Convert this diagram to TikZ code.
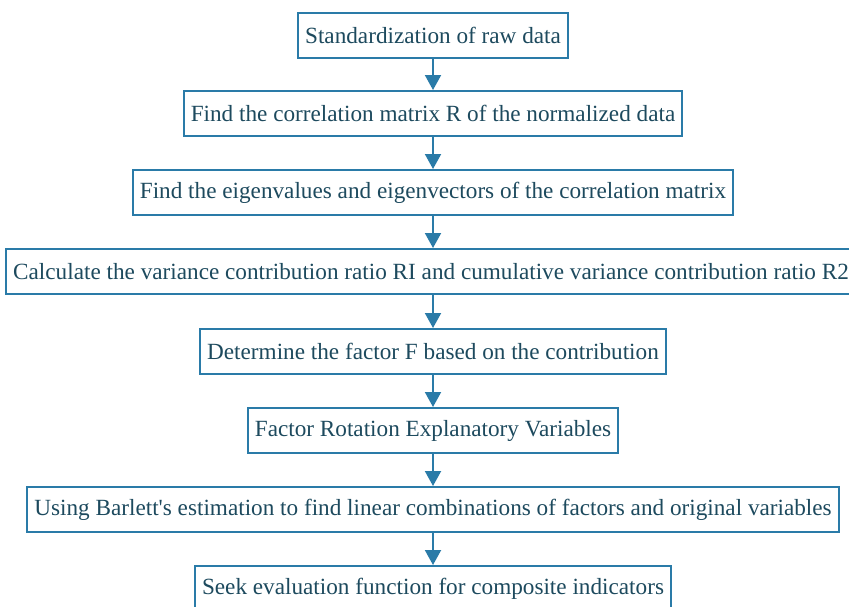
\documentclass[tikz,border=0pt]{standalone}
\usepackage{fontspec}
\setmainfont{Liberation Serif}
\usetikzlibrary{arrows.meta}
\definecolor{edgeblue}{HTML}{2A7BA8}
\definecolor{inkblue}{HTML}{1D4A5E}
\begin{document}
\begin{tikzpicture}[x=1pt,y=1pt,
  stepbox/.style={draw=edgeblue,line width=2pt,fill=white,text=inkblue,
    font=\fontsize{23.2}{26}\selectfont,minimum height=45pt,inner xsep=7pt,inner ysep=0pt},
  flow/.style={draw=edgeblue,line width=2pt,-{Triangle[width=16pt,length=15pt]},fill=edgeblue}]
\useasboundingbox (0,0) rectangle (849,-606);
\node[stepbox] (s1) at (433,-35) {Standardization of raw data};
\node[stepbox] (s2) at (433,-113.5) {Find the correlation matrix R of the normalized data};
\node[stepbox] (s3) at (433,-192.5) {Find the eigenvalues and eigenvectors of the correlation matrix};
\node[stepbox] (s4) at (431,-271.5) {Calculate the variance contribution ratio RI and cumulative variance contribution ratio R2};
\node[stepbox] (s5) at (433,-351.5) {Determine the factor F based on the contribution};
\node[stepbox] (s6) at (433,-430.5) {Factor Rotation Explanatory Variables};
\node[stepbox] (s7) at (433,-509.5) {Using Barlett\textquotesingle s estimation to find linear combinations of factors and original variables};
\node[stepbox] (s8) at (433,-588.5) {Seek evaluation function for composite indicators};
% vertical connectors, all on the common axis x = 433
\draw[flow] (s1.south) -- (s2.north);
\draw[flow] (s2.south) -- (s3.north);
\draw[flow] (s3.south) -- (s3.south |- s4.north);
\draw[flow] (s3.south |- s4.south) -- (s5.north);
\draw[flow] (s5.south) -- (s6.north);
\draw[flow] (s6.south) -- (s7.north);
\draw[flow] (s7.south) -- (s8.north);
\end{tikzpicture}
\end{document}
